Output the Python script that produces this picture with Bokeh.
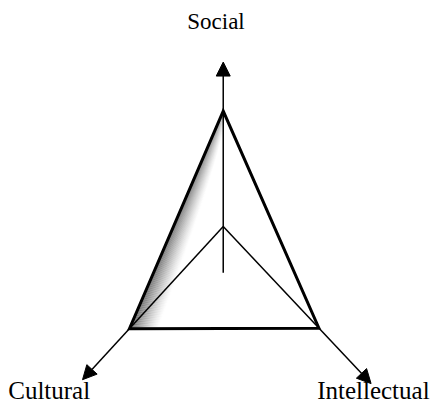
import numpy as np
from bokeh.plotting import figure
from bokeh.models import Range1d, Arrow, NormalHead
from bokeh.core.properties import value
from bokeh.embed import file_html
from bokeh.resources import INLINE

categories = ["Social", "Cultural", "Intellectual"]
values = [120, 144, 145]
axis_angles = [90, 227.5, 313.2]
axis_lengths = [171, 216, 224]
axis_starts = [-48, 0, 0]

W, H = 431, 403
# data space: reference pixel space (447 x 419) with origin at the chart centre
RX, RY = 231, 235
p = figure(width=W, height=H, output_backend="svg", toolbar_location=None,
           x_range=Range1d(-RX, 447 - RX), y_range=Range1d(-(419 - RY), RY),
           x_axis_type=None, y_axis_type=None, min_border=0)
p.grid.visible = False
p.outline_line_color = None
p.background_fill_color = "white"
p.border_fill_color = "white"

ang = np.radians(axis_angles)
vx = np.array(values) * np.cos(ang)
vy = np.array(values) * np.sin(ang)

# shadow along the Social-Cultural edge
A = np.array([vx[0], vy[0]])
B = np.array([vx[1], vy[1]])
s = np.linspace(0, 1, 40)
ex = A[0] + (B[0] - A[0]) * s
ey = A[1] + (B[1] - A[1]) * s
wid = 30 * np.sqrt(s)
n = 30
xs, ys, cols = [], [], []
for k in range(n):
    t0, t1 = k / n, (k + 1) / n
    x0 = ex + wid * t0
    x1 = ex + wid * t1
    xs.append(list(x0) + list(x1[::-1]))
    ys.append(list(ey) + list(ey[::-1]))
    tm = (t0 + t1) / 2
    g = int(round(255 - 170 * (1 - tm) ** 1.25))
    cols.append("#%02x%02x%02x" % (g, g, g))
p.patches(xs, ys, fill_color=cols, line_color=None)

# data triangle
p.patch(list(vx), list(vy), fill_color=None, line_color="black", line_width=3,
        line_join="miter")

# axes
for a, L, st in zip(ang, axis_lengths, axis_starts):
    p.add_layout(Arrow(end=NormalHead(size=14, fill_color="black", line_color="black"),
                       x_start=st * np.cos(a), y_start=st * np.sin(a),
                       x_end=L * np.cos(a), y_end=L * np.sin(a),
                       line_color="black", line_width=1.5))

font = value("Liberation Serif")
p.text(x=[-7.5], y=[213.5], text=[categories[0]], text_font=font,
       text_font_size="23px", text_align="center", text_baseline="alphabetic",
       text_color="black")
p.text(x=[-223], y=[-171], text=[categories[1]], text_font=font,
       text_font_size="25px", text_align="left", text_baseline="alphabetic",
       text_color="black")
p.text(x=[214], y=[-171], text=[categories[2]], text_font=font,
       text_font_size="25px", text_align="right", text_baseline="alphabetic",
       text_color="black")

open("out.html", "w").write(file_html(p, INLINE))
